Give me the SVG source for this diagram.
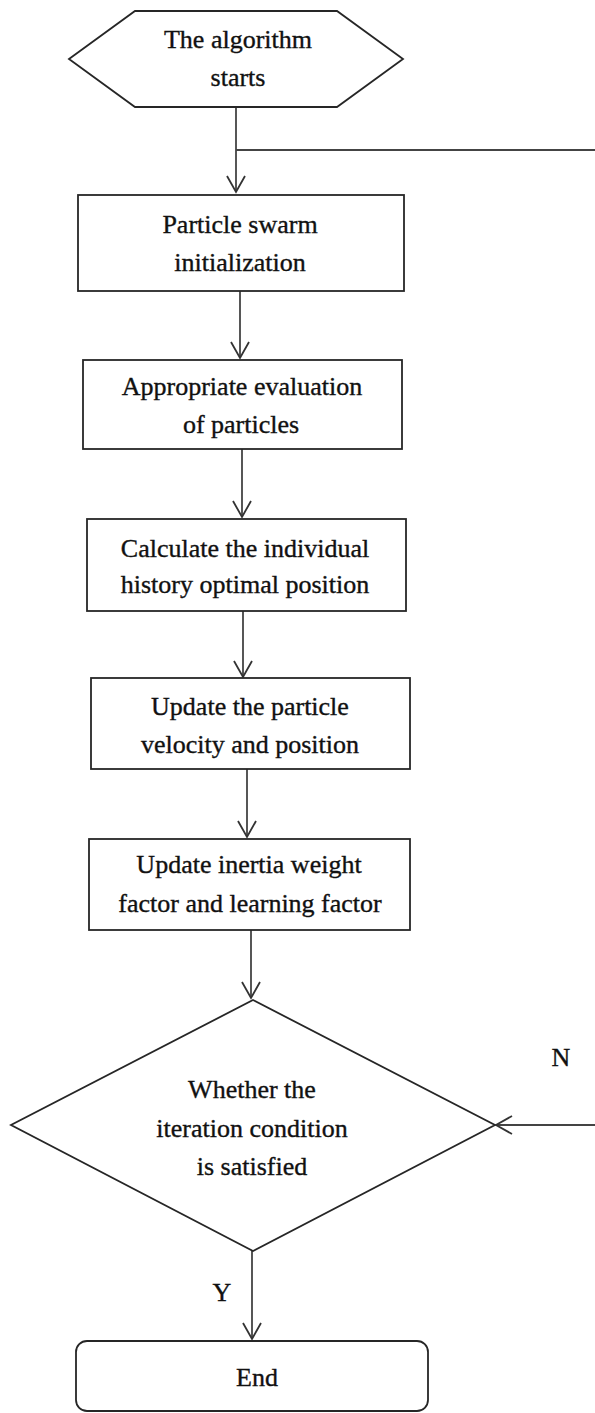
<svg xmlns="http://www.w3.org/2000/svg" width="595" height="1413" viewBox="0 0 595 1413">
<defs>
<style>
.shape{fill:#fff;stroke:#262626;stroke-width:1.8}
.conn{fill:none;stroke:#444;stroke-width:1.8}
.t{font-family:"Liberation Serif","Times New Roman",serif;font-size:26px;fill:#111;stroke:#111;stroke-width:0.35;text-anchor:middle}
</style>
<marker id="arr" viewBox="-18 -11 20 22" refX="0" refY="0" markerWidth="20" markerHeight="22" markerUnits="userSpaceOnUse" orient="auto">
<path d="M-16,-9 L0,0 L-16,9" fill="none" stroke="#333" stroke-width="1.8"/>
</marker>
</defs>
<rect width="595" height="1413" fill="#fff"/>
<g id="connectors">
<line class="conn" x1="236" y1="107" x2="236" y2="192" marker-end="url(#arr)"/>
<line class="conn" x1="236" y1="150" x2="595" y2="150"/>
<line class="conn" x1="240" y1="291" x2="240" y2="358" marker-end="url(#arr)"/>
<line class="conn" x1="242" y1="449" x2="242" y2="517" marker-end="url(#arr)"/>
<line class="conn" x1="243" y1="611" x2="243" y2="677" marker-end="url(#arr)"/>
<line class="conn" x1="247" y1="769" x2="247" y2="837" marker-end="url(#arr)"/>
<line class="conn" x1="251" y1="930" x2="251" y2="998" marker-end="url(#arr)"/>
<line class="conn" x1="595" y1="1125" x2="496" y2="1125" marker-end="url(#arr)"/>
<line class="conn" x1="252" y1="1251" x2="252" y2="1339" marker-end="url(#arr)"/>
<text class="t" x="561" y="1066">N</text>
<text class="t" x="222" y="1301">Y</text>
</g>
<g id="start">
<polygon class="shape" points="69,59 135,11 337,11 403,59 337,107 135,107"/>
<text class="t" x="238" y="48">The algorithm</text>
<text class="t" x="238" y="86">starts</text>
</g>
<g id="init">
<rect class="shape" x="78" y="195" width="326" height="96"/>
<text class="t" x="240" y="233">Particle swarm</text>
<text class="t" x="240" y="271">initialization</text>
</g>
<g id="evaluate">
<rect class="shape" x="83" y="360" width="319" height="89"/>
<text class="t" x="242" y="395">Appropriate evaluation</text>
<text class="t" x="241" y="433">of particles</text>
</g>
<g id="history">
<rect class="shape" x="87" y="519" width="319" height="92"/>
<text class="t" x="245" y="557">Calculate the individual</text>
<text class="t" x="245" y="593">history optimal position</text>
</g>
<g id="update-velocity">
<rect class="shape" x="91" y="678" width="319" height="91"/>
<text class="t" x="250" y="715">Update the particle</text>
<text class="t" x="250" y="753">velocity and position</text>
</g>
<g id="update-weight">
<rect class="shape" x="89" y="839" width="321" height="91"/>
<text class="t" x="249" y="873">Update inertia weight</text>
<text class="t" x="250" y="912">factor and learning factor</text>
</g>
<g id="condition">
<polygon class="shape" points="253,1000 495,1125 253,1251 11,1125"/>
<text class="t" x="252" y="1098">Whether the</text>
<text class="t" x="252" y="1137">iteration condition</text>
<text class="t" x="252" y="1175">is satisfied</text>
</g>
<g id="end">
<rect class="shape" x="76" y="1341" width="352" height="70" rx="11"/>
<text class="t" x="257" y="1386">End</text>
</g>
</svg>
